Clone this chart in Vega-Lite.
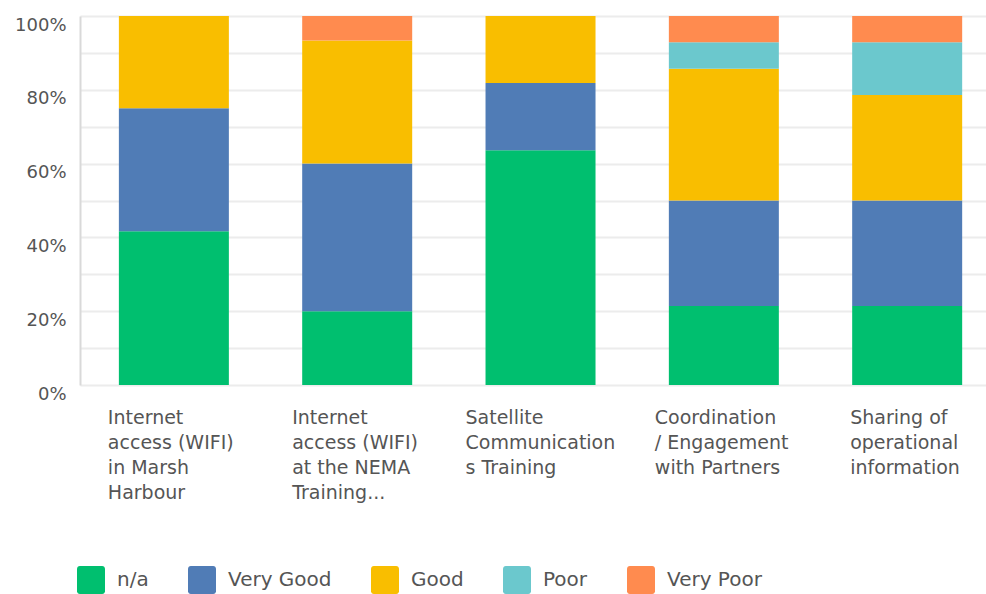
{
  "$schema": "https://vega.github.io/schema/vega-lite/v6.json",
  "width": 906,
  "height": 369,
  "autosize": {"type": "none"},
  "padding": {"left": 80, "top": 16, "right": 0, "bottom": 209},
  "background": "white",
  "config": {"view": {"stroke": null}, "font": "DejaVu Sans"},
  "data": {
    "values": [
      {"item": "Internet access (WIFI) in Marsh Harbour", "rating": "n/a", "count": 5},
      {"item": "Internet access (WIFI) in Marsh Harbour", "rating": "Very Good", "count": 4},
      {"item": "Internet access (WIFI) in Marsh Harbour", "rating": "Good", "count": 3},
      {"item": "Internet access (WIFI) at the NEMA Training...", "rating": "n/a", "count": 3},
      {"item": "Internet access (WIFI) at the NEMA Training...", "rating": "Very Good", "count": 6},
      {"item": "Internet access (WIFI) at the NEMA Training...", "rating": "Good", "count": 5},
      {"item": "Internet access (WIFI) at the NEMA Training...", "rating": "Very Poor", "count": 1},
      {"item": "Satellite Communications Training", "rating": "n/a", "count": 7},
      {"item": "Satellite Communications Training", "rating": "Very Good", "count": 2},
      {"item": "Satellite Communications Training", "rating": "Good", "count": 2},
      {"item": "Coordination / Engagement with Partners", "rating": "n/a", "count": 3},
      {"item": "Coordination / Engagement with Partners", "rating": "Very Good", "count": 4},
      {"item": "Coordination / Engagement with Partners", "rating": "Good", "count": 5},
      {"item": "Coordination / Engagement with Partners", "rating": "Poor", "count": 1},
      {"item": "Coordination / Engagement with Partners", "rating": "Very Poor", "count": 1},
      {"item": "Sharing of operational information", "rating": "n/a", "count": 3},
      {"item": "Sharing of operational information", "rating": "Very Good", "count": 4},
      {"item": "Sharing of operational information", "rating": "Good", "count": 4},
      {"item": "Sharing of operational information", "rating": "Poor", "count": 2},
      {"item": "Sharing of operational information", "rating": "Very Poor", "count": 1}
    ]
  },
  "transform": [
    {"calculate": "indexof(['n/a', 'Very Good', 'Good', 'Poor', 'Very Poor'], datum.rating)", "as": "stackOrder"}
  ],
  "mark": {"type": "bar"},
  "encoding": {
    "x": {
      "field": "item",
      "type": "nominal",
      "sort": [
        "Internet access (WIFI) in Marsh Harbour",
        "Internet access (WIFI) at the NEMA Training...",
        "Satellite Communications Training",
        "Coordination / Engagement with Partners",
        "Sharing of operational information"
      ],
      "scale": {"paddingInner": 0.4, "paddingOuter": 0.171, "align": 0.62},
      "axis": {
        "title": null,
        "domain": false,
        "ticks": false,
        "grid": false,
        "labelAngle": 0,
        "labelAlign": "left",
        "labelBaseline": "top",
        "labelPadding": 23,
        "labelFontSize": 19,
        "labelLineHeight": 25,
        "labelColor": "#555555",
        "labelLimit": 0,
        "labelOverlap": false,
        "labelOffset": {
          "condition": [
            {"test": "datum.value == 'Internet access (WIFI) in Marsh Harbour'", "value": -66},
            {"test": "datum.value == 'Internet access (WIFI) at the NEMA Training...'", "value": -65},
            {"test": "datum.value == 'Satellite Communications Training'", "value": -75},
            {"test": "datum.value == 'Coordination / Engagement with Partners'", "value": -69}
          ],
          "value": -57
        },
        "labelExpr": "datum.value == 'Internet access (WIFI) in Marsh Harbour' ? ['Internet', 'access (WIFI)', 'in Marsh', 'Harbour'] : datum.value == 'Internet access (WIFI) at the NEMA Training...' ? ['Internet', 'access (WIFI)', 'at the NEMA', 'Training...'] : datum.value == 'Satellite Communications Training' ? ['Satellite', 'Communication', 's Training'] : datum.value == 'Coordination / Engagement with Partners' ? ['Coordination', '/ Engagement', 'with Partners'] : ['Sharing of', 'operational', 'information']"
      }
    },
    "y": {
      "field": "count",
      "type": "quantitative",
      "stack": "normalize",
      "scale": {"domain": [0, 1]},
      "axis": {
        "title": null,
        "values": [0, 0.1, 0.2, 0.3, 0.4, 0.5, 0.6, 0.7, 0.8, 0.9, 1],
        "labelExpr": "round(datum.value * 10) % 2 == 0 ? format(datum.value, '.0%') : ''",
        "ticks": false,
        "domain": true,
        "domainColor": "#d9d9d9",
        "domainWidth": 2,
        "grid": true,
        "gridColor": "#ececec",
        "gridWidth": 2,
        "labelFontSize": 18,
        "labelColor": "#555555",
        "labelPadding": 14,
        "labelOffset": 9,
        "labelOverlap": false
      }
    },
    "order": {"field": "stackOrder", "type": "quantitative", "sort": "ascending"},
    "color": {
      "field": "rating",
      "type": "nominal",
      "sort": ["n/a", "Very Good", "Good", "Poor", "Very Poor"],
      "scale": {
        "domain": ["n/a", "Very Good", "Good", "Poor", "Very Poor"],
        "range": ["#00BF6F", "#507CB6", "#F9BE00", "#6BC8CD", "#FF8B4F"]
      },
      "legend": {
        "title": null,
        "orient": "none",
        "legendX": -3,
        "legendY": 550,
        "direction": "horizontal",
        "padding": 0,
        "symbolType": "M-1,-0.8A0.2,0.2 0 0 1 -0.8,-1H0.8A0.2,0.2 0 0 1 1,-0.8V0.8A0.2,0.2 0 0 1 0.8,1H-0.8A0.2,0.2 0 0 1 -1,0.8Z",
        "symbolSize": 784,
        "symbolStrokeWidth": 0,
        "symbolOpacity": 1,
        "labelFontSize": 20,
        "labelColor": "#555555",
        "labelOffset": 12,
        "columnPadding": 38
      }
    }
  }
}
